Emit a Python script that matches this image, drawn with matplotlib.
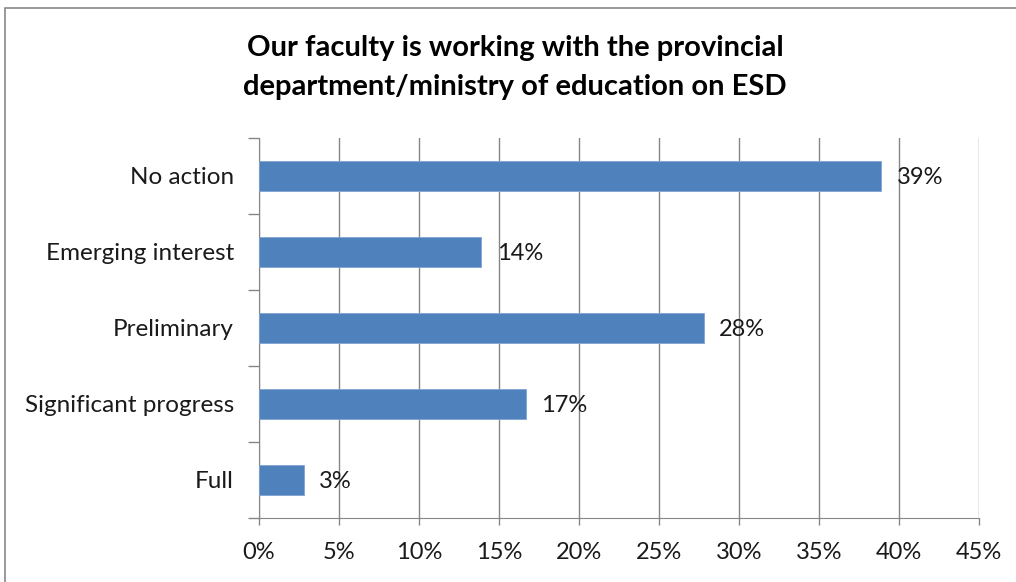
import matplotlib
matplotlib.use("Agg")
from matplotlib import pyplot as plt
from matplotlib.patches import Rectangle
import numpy as np

# data
categories = ["No action", "Emerging interest", "Preliminary", "Significant progress", "Full"]
values = [38.9, 13.9, 27.8, 16.7, 2.8]
value_labels = ["39%", "14%", "28%", "17%", "3%"]
x_ticks = [0, 5, 10, 15, 20, 25, 30, 35, 40, 45]
title = "Our faculty is working with the provincial\ndepartment/ministry of education on ESD"

plt.rcParams['font.family'] = ['Lato', 'DejaVu Sans']

fig = plt.figure(figsize=(10.16, 5.82), dpi=100)
ax = fig.add_axes([259/1016, 1 - 518/582, (979 - 259)/1016, (518 - 138)/582])

pos = np.arange(len(categories))
ax.barh(pos, values, height=0.4, color="#4F81BD", edgecolor="#7FA3D0", linewidth=0.6, zorder=3)

# data labels
for p, v, lab in zip(pos, values, value_labels):
    ax.annotate(lab, (v, p), xytext=(11, -1), textcoords="offset points",
                ha="left", va="center", fontsize=17, color="#1a1a1a", zorder=4)

ax.set_ylim(len(categories) - 0.5, -0.5)
ax.set_xlim(0, 45)

# y axis: labels at centers, tick marks at boundaries
ax.set_yticks(pos, labels=categories)
ax.set_yticks(np.arange(len(categories) + 1) - 0.5, minor=True)
ax.tick_params(axis="y", which="major", length=0, pad=18, labelsize=17.5, labelcolor="#1a1a1a")
ax.tick_params(axis="y", which="minor", length=8, color="#868686", width=1)

ax.set_xticks(x_ticks, labels=[f"{t}%" for t in x_ticks])
ax.tick_params(axis="x", length=5, color="#868686", width=1, pad=12, labelsize=17,
               labelcolor="#1a1a1a")

ax.grid(axis="x", color="#868686", linewidth=1, zorder=0)
for s in ["top", "right"]:
    ax.spines[s].set_visible(False)
ax.spines["left"].set_color("#868686")
ax.spines["bottom"].set_color("#868686")

fig.text(0.507, 1 - 67.5/582, title, ha="center", va="center", fontsize=21,
         fontweight="bold", linespacing=1.6)

# chart area border
fig.patches.append(Rectangle((5/1016, -0.1), 1.2, 1.1 - 8/582, transform=fig.transFigure,
                             fill=False, edgecolor="#888888", linewidth=1.2))

fig.savefig("out.png", dpi=100)
